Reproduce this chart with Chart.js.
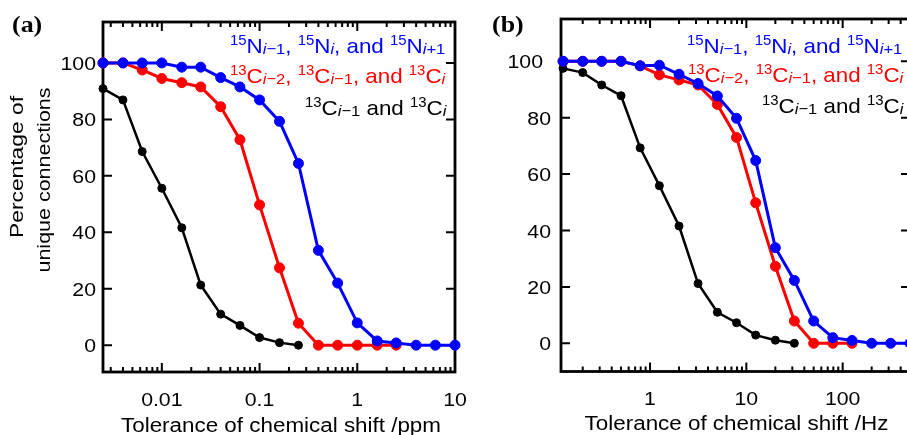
<!DOCTYPE html>
<html><head><meta charset="utf-8">
<script src="https://cdn.jsdelivr.net/npm/chart.js@4/dist/chart.umd.min.js"></script>
<style>
html,body{margin:0;padding:0;background:#fff;overflow:hidden;width:907px;height:435px;}
#ca{position:absolute;left:0;top:0;}
#cb{position:absolute;left:460px;top:0;}
</style></head><body>
<canvas id="ca" width="480" height="435"></canvas>
<canvas id="cb" width="460" height="435"></canvas>
<script>
// ---------- data ----------
const ppmTol = [0.0025,0.004,0.0063,0.01,0.016,0.025,0.04,0.063,0.1,0.16,0.25,0.4,0.63,1,1.6,2.5,4,6.3,10];
const hzTol  = [0.125,0.2,0.315,0.5,0.79,1.25,2,3.15,5,7.9,12.5,20,31.5,50,79,125,200,315,500];
const ppmN  = [100,100,100,100,98.5,98.5,94.8,91.5,86.9,79.3,64.4,33.6,22,7.9,1.5,0.8,0,0,0];
const ppmC3 = [100,100,97.5,94.5,93,91.5,84.5,72.8,49.7,27.4,7.8,0,0,0,0,0];
const ppmC2 = [90.9,86.9,68.6,55.6,41.6,21.3,11,7,2.7,0.9,0];
const hzN   = [100,100,100,100,98.4,98.6,95.4,92.1,87.7,79.8,64.8,33.9,22.3,7.9,2,1,0,0,0];
const hzC3  = [100,100,100,100,98.4,95.2,93.4,91.6,84.7,73,49.8,27.3,7.9,0,0,0];
const hzC2  = [97.5,96,91.6,87.8,69.3,55.9,41.6,21.2,11,7.3,2.9,1.1,0];
const yTicks = [0,20,40,60,80,100];
const ppmTicks = [0.01,0.1,1,10];
const ppmTickLabels = ['0.01','0.1','1','10'];
const hzTicks = [1,10,100];
const hzTickLabels = ['1','10','100'];
const seriesNames = ['15Ni\u22121, 15Ni, and 15Ni+1','13Ci\u22122, 13Ci\u22121, and 13Ci','13Ci\u22121 and 13Ci'];
const seriesColors = ['#0000ff','#ff0000','#000000'];
const legendRows = [
  [['15','p'],['N','n'],['i','i'],['\u22121','s'],[', ','n'],['15','p'],['N','n'],['i','i'],[', and ','n'],['15','p'],['N','n'],['i','i'],['+1','s']],
  [['13','p'],['C','n'],['i','i'],['\u22122','s'],[', ','n'],['13','p'],['C','n'],['i','i'],['\u22121','s'],[', and ','n'],['13','p'],['C','n'],['i','i']],
  [['13','p'],['C','n'],['i','i'],['\u22121','s'],[' and ','n'],['13','p'],['C','n'],['i','i']]
];
const yTitle = ['Percentage of','unique connections'];
const xTitles = ['Tolerance of chemical shift /ppm','Tolerance of chemical shift /Hz'];
const panelTags = ['(a)','(b)'];

// ---------- helpers ----------
const FONT = '"Liberation Sans", Arial, Helvetica, sans-serif';
const HS = 1.12;
function txt(ctx, s, x, y, size, o) {
  o = o || {};
  ctx.save();
  ctx.font = (o.weight||'') + ' ' + size + 'px ' + (o.family||FONT);
  ctx.fillStyle = o.color||'#000';
  ctx.textAlign = o.align||'left';
  ctx.textBaseline = o.baseline||'alphabetic';
  ctx.translate(x,y);
  if (o.rot) ctx.rotate(o.rot);
  ctx.scale(o.hs||HS,1);
  ctx.fillText(s,0,0);
  ctx.restore();
}
function rich(ctx, segs, x, y, color, hs) {
  ctx.save(); ctx.translate(x,y); ctx.scale(hs,1);
  ctx.fillStyle=color; ctx.textBaseline='alphabetic'; ctx.textAlign='left';
  let cx=0;
  for (const [t,k] of segs) {
    let size=21, dy=0, st='';
    if (k==='p'){size=14; dy=-8.5;}
    else if (k==='i'){size=15.5; dy=0.5; st='italic ';}
    else if (k==='s'){size=15.5; dy=0.5;}
    ctx.font = st + size + 'px ' + FONT;
    ctx.fillText(t, cx, dy);
    cx += ctx.measureText(t).width;
  }
  ctx.restore();
}
function pts(xs, ys){ return ys.map((v,i)=>({x:xs[i], y:v})); }

function makeFrame(cfg){
  return {
    id:'frame'+cfg.tag,
    beforeDatasetsDraw(chart){
      const ctx=chart.ctx, a=chart.chartArea, xs=chart.scales.x, ys=chart.scales.y;
      ctx.save();
      ctx.strokeStyle='#000'; ctx.lineCap='butt';
      ctx.lineWidth=2;
      for (const v of yTicks){
        const py=ys.getPixelForValue(v);
        ctx.beginPath();
        ctx.moveTo(a.left,py); ctx.lineTo(a.left+9,py);
        ctx.moveTo(a.right,py); ctx.lineTo(a.right-9,py);
        ctx.stroke();
      }
      const lo=Math.floor(Math.log10(xs.min)), hi=Math.ceil(Math.log10(xs.max));
      for (let d=lo; d<=hi; d++){
        for (let m=1;m<=9;m++){
          const v=m*Math.pow(10,d);
          if (v<xs.min*0.999||v>xs.max*1.001) continue;
          const px=xs.getPixelForValue(v);
          const L = m===1?9:5;
          ctx.beginPath();
          ctx.moveTo(px,a.bottom); ctx.lineTo(px,a.bottom-L);
          ctx.moveTo(px,a.top); ctx.lineTo(px,a.top+L);
          ctx.stroke();
        }
      }
      ctx.lineWidth=2.8;
      ctx.strokeRect(a.left,a.top,a.right-a.left,a.bottom-a.top);
      ctx.restore();
    },
    afterDraw(chart){
      const ctx=chart.ctx, a=chart.chartArea, xs=chart.scales.x, ys=chart.scales.y;
      yTicks.forEach(v=>{
        const py=ys.getPixelForValue(v);
        let rx=cfg.yLabelRight;
        if (v===100) rx+=cfg.y100shift;
        txt(ctx,String(v),rx,py+7,19,{align:'right'});
      });
      cfg.xt.forEach((v,i)=>{
        const px=xs.getPixelForValue(v);
        txt(ctx,cfg.xtl[i],px,cfg.xLabelBase,19,{align:'center'});
      });
      txt(ctx,cfg.xTitle,cfg.xTitleX,cfg.xTitleBase,20,{align:'center'});
      if (cfg.yTitle){
        txt(ctx,yTitle[0],18,167,19,{align:'center',baseline:'middle',rot:-Math.PI/2,hs:1.2});
        txt(ctx,yTitle[1],45,180,19,{align:'center',baseline:'middle',rot:-Math.PI/2,hs:1.13});
      }
      txt(ctx,cfg.tagText,cfg.tagX,32,24,{family:'"Liberation Serif", "Times New Roman", serif',weight:'bold',hs:1.08});
      for (let r=0;r<3;r++){
        rich(ctx,legendRows[r],cfg.legX[r],cfg.legY[r],seriesColors[r],1.065);
      }
    }
  };
}

function makeChart(id, xsArr, series, scaleX, scaleY, pad, cfg){
  const ds = series.map((s,i)=>({
    label: seriesNames[i],
    data: pts(xsArr, s),
    borderColor: seriesColors[i],
    backgroundColor: seriesColors[i],
    pointBackgroundColor: seriesColors[i],
    pointBorderColor: seriesColors[i],
    borderWidth: i===2?2.5:3,
    pointRadius: i===2?4:5,
    pointBorderWidth: 1,
    tension: 0,
    clip: false
  }));
  return new Chart(document.getElementById(id), {
    type:'line',
    data:{datasets:ds},
    options:{
      responsive:false, animation:false, devicePixelRatio:1,
      layout:{padding:pad},
      plugins:{legend:{display:false}, tooltip:{enabled:false}},
      scales:{
        x:{type:'logarithmic', display:false, min:scaleX[0], max:scaleX[1]},
        y:{type:'linear', display:false, min:scaleY[0], max:scaleY[1]}
      }
    },
    plugins:[makeFrame(cfg)]
  });
}

makeChart('ca', ppmTol, [ppmN, ppmC3, ppmC2], [0.0025,10], [-9.5,114.5],
  {left:103,right:25,top:22,bottom:63},
  {tag:'a', tagText:panelTags[0], tagX:12, yTitle:true, yLabelRight:96, y100shift:0,
   xt:ppmTicks, xtl:ppmTickLabels, xLabelBase:406, xTitle:xTitles[0], xTitleX:281, xTitleBase:431.5,
   legX:[230,230,305], legY:[53,83,115]});

makeChart('cb', hzTol, [hzN, hzC3, hzC2], [0.119,500], [-10,115],
  {left:101,right:10,top:19,bottom:63.5},
  {tag:'b', tagText:panelTags[1], tagX:32, yTitle:false, yLabelRight:91, y100shift:-8,
   xt:hzTicks, xtl:hzTickLabels, xLabelBase:405, xTitle:xTitles[1], xTitleX:276.5, xTitleBase:430,
   legX:[227,228,302], legY:[53,82,113]});
</script>
</body></html>
